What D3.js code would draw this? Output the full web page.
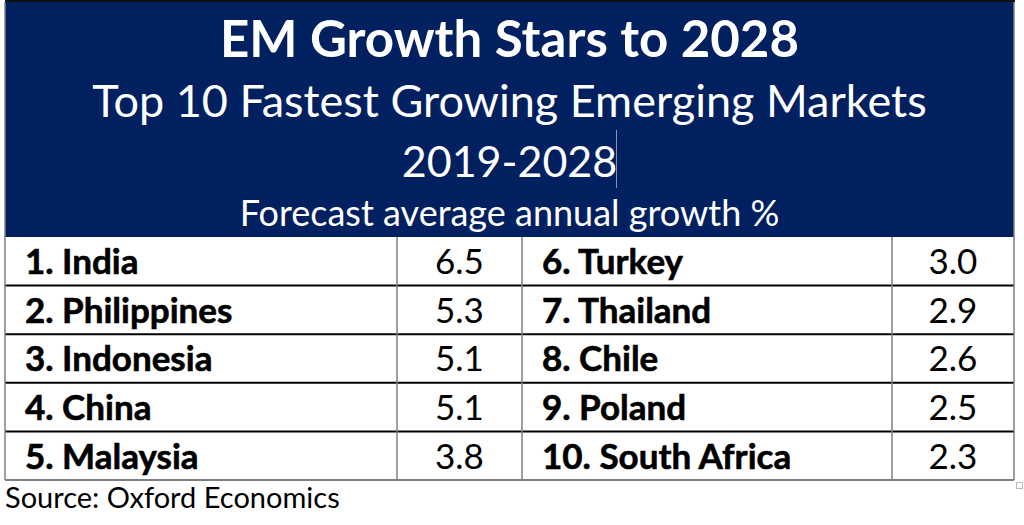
<!DOCTYPE html>
<html>
<head>
<meta charset="utf-8">
<script src="https://cdn.jsdelivr.net/npm/d3@7"></script>
<style>
  html, body { margin: 0; padding: 0; background: #fff; }
  svg { display: block; }
</style>
</head>
<body>
<div id="chart"></div>
<script>
// table data
const countries = ["India", "Philippines", "Indonesia", "China", "Malaysia",
                   "Turkey", "Thailand", "Chile", "Poland", "South Africa"];
const growth = [6.5, 5.3, 5.1, 5.1, 3.8, 3.0, 2.9, 2.6, 2.5, 2.3];
const titleLines = ["EM Growth Stars to 2028",
                    "Top 10 Fastest Growing Emerging Markets",
                    "2019-2028",
                    "Forecast average annual growth %"];
const source = "Source: Oxford Economics";

const W = 1024, H = 525;
const font = "Lato, 'Open Sans', sans-serif";
const navy = "#002060";

const svg = d3.select("#chart").append("svg")
    .attr("width", W)
    .attr("height", H);

const left = 5, right = 1014, headTop = 2, headBottom = 237, tableBottom = 480;

// header block
svg.append("rect")
    .attr("x", left).attr("y", headTop)
    .attr("width", right - left).attr("height", headBottom - headTop)
    .attr("fill", navy);
svg.append("line")
    .attr("x1", left).attr("x2", right + 1)
    .attr("y1", 1).attr("y2", 1)
    .attr("stroke", "#111").attr("stroke-width", 2);

const cx = (left + right) / 2;
const titleStyle = [
    { y: 57,  size: 51, weight: "bold" },
    { y: 117, size: 45, weight: "normal" },
    { y: 177, size: 43, weight: "normal" },
    { y: 226, size: 36, weight: "normal" }
];
svg.selectAll(".title")
    .data(titleLines)
    .enter().append("text")
    .attr("class", "title")
    .attr("x", cx)
    .attr("y", (d, i) => titleStyle[i].y)
    .attr("text-anchor", "middle")
    .style("font-family", font)
    .style("font-size", (d, i) => titleStyle[i].size + "px")
    .style("font-weight", (d, i) => titleStyle[i].weight)
    .style("fill", "#fff")
    .text(d => d);

// editing cursor left in the header
svg.append("line")
    .attr("x1", 616.5).attr("x2", 616.5)
    .attr("y1", 130).attr("y2", 188)
    .attr("stroke", "#8a93b0").attr("stroke-width", 1);

// rows / columns
const rows = d3.scaleBand().domain(d3.range(5)).range([headBottom, tableBottom]);
const groups = d3.scaleOrdinal().domain([0, 1]).range([left, 522]);
const nameW = [397 - left, 892 - 522];
const valW = [522 - 397, right - 892];

const cells = countries.map((c, i) => ({
    label: (i + 1) + ". " + c,
    value: growth[i],
    group: Math.floor(i / 5),
    row: i % 5
}));

const cellG = svg.selectAll(".cell")
    .data(cells)
    .enter().append("g")
    .attr("class", "cell")
    .attr("transform", d => `translate(${groups(d.group)},${rows(d.row)})`);

cellG.append("text")
    .attr("x", 20)
    .attr("y", rows.bandwidth() / 2 + 13)
    .style("font-family", font)
    .style("font-size", "35px")
    .style("font-weight", "bold")
    .style("fill", "#000")
    .style("stroke", "#000")
    .style("stroke-width", "0.6px")
    .text(d => d.label);

cellG.append("text")
    .attr("x", d => nameW[d.group] + valW[d.group] / 2)
    .attr("y", rows.bandwidth() / 2 + 13)
    .attr("text-anchor", "middle")
    .style("font-family", font)
    .style("font-size", "35px")
    .style("fill", "#000")
    .text(d => d3.format(".1f")(d.value));

// horizontal rules between rows
svg.selectAll(".hline")
    .data(d3.range(1, 5))
    .enter().append("line")
    .attr("class", "hline")
    .attr("x1", left).attr("x2", right)
    .attr("y1", d => rows(d)).attr("y2", d => rows(d))
    .attr("stroke", "#000").attr("stroke-width", 2);

// vertical rules
const vx = [left, 397, 522, 892, right];
svg.selectAll(".vline")
    .data(vx)
    .enter().append("line")
    .attr("class", "vline")
    .attr("x1", d => d).attr("x2", d => d)
    .attr("y1", d => (d === left || d === right) ? headTop : headBottom)
    .attr("y2", tableBottom)
    .attr("stroke", "#7f7f7f").attr("stroke-width", 1.5);

svg.append("line")
    .attr("x1", left).attr("x2", right)
    .attr("y1", tableBottom).attr("y2", tableBottom)
    .attr("stroke", "#7f7f7f").attr("stroke-width", 2);

// resize handle
svg.append("rect")
    .attr("x", 1016.5).attr("y", 482.5)
    .attr("width", 6).attr("height", 6)
    .attr("fill", "#fff").attr("stroke", "#bbb");

svg.append("text")
    .attr("x", left)
    .attr("y", 508)
    .style("font-family", font)
    .style("font-size", "29px")
    .style("fill", "#000")
    .text(source);
</script>
</body>
</html>
